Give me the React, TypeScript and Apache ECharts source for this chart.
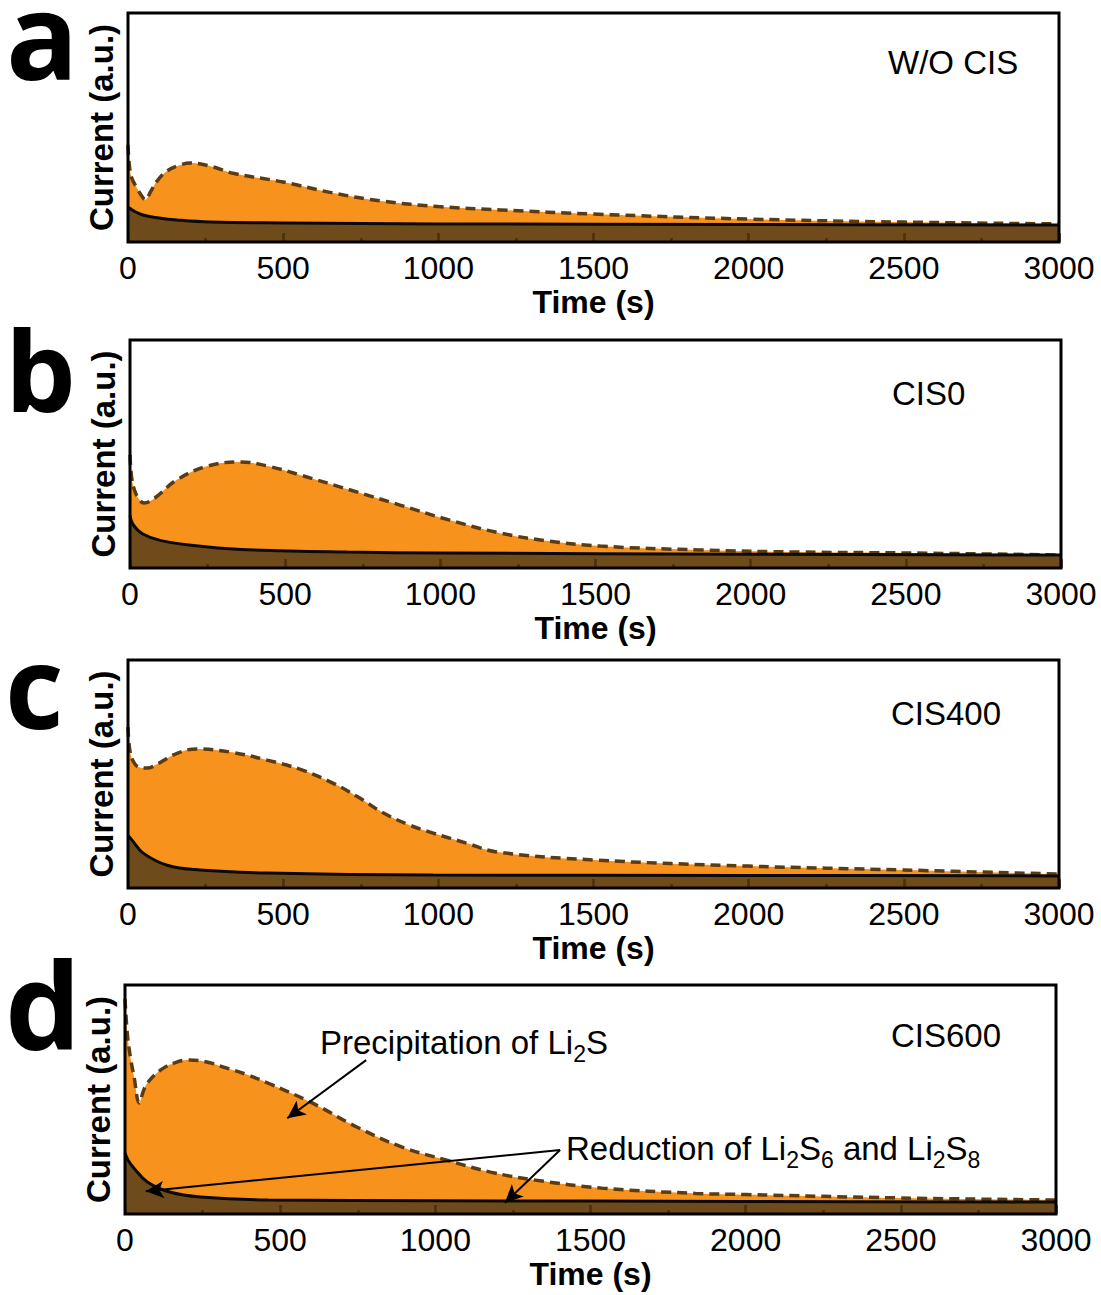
import React, { useEffect, useRef } from "react";
import * as echarts from "echarts";

// ---- data (time in s, current in a.u. normalised to the panel height) ----
const timeTickLabels = [0, 500, 1000, 1500, 2000, 2500, 3000];
const panelNames = ["W/O CIS", "CIS0", "CIS400", "CIS600"];
const panelLetters = ["a", "b", "c", "d"];

const totalA = [[0,0.424],[4,0.34],[12,0.28],[29,0.235],[45,0.2],[55,0.185],[75,0.225],[93,0.265],[126,0.31],[168,0.336],[200,0.345],[274,0.328],[339,0.30],[500,0.262],[661,0.214],[822,0.178],[1000,0.155],[1200,0.14],[1500,0.122],[2000,0.10],[2500,0.087],[3000,0.079]];
const bgA = [[0,0.15],[5,0.148],[13,0.14],[48,0.118],[100,0.105],[158,0.096],[264,0.087],[500,0.083],[1000,0.079],[2000,0.076],[3000,0.074]];

const totalB = [[0,0.496],[5,0.40],[15,0.34],[30,0.3],[45,0.285],[80,0.307],[150,0.386],[250,0.447],[355,0.465],[450,0.445],[548,0.408],[710,0.342],[870,0.276],[1030,0.21],[1190,0.154],[1350,0.118],[1515,0.096],[1837,0.079],[2160,0.07],[2500,0.066],[3000,0.057]];
const bgB = [[0,0.23],[10,0.19],[40,0.15],[100,0.12],[250,0.092],[400,0.079],[700,0.07],[1000,0.066],[2000,0.06],[3000,0.057]];

const totalC = [[0,0.706],[5,0.614],[15,0.56],[35,0.53],[61,0.526],[100,0.548],[160,0.592],[222,0.61],[330,0.596],[448,0.561],[560,0.518],[660,0.46],[740,0.40],[822,0.33],[900,0.28],[983,0.241],[1090,0.197],[1189,0.158],[1500,0.123],[2000,0.096],[2500,0.079],[3000,0.061]];
const bgC = [[0,0.23],[13,0.21],[48,0.154],[126,0.10],[232,0.079],[448,0.066],[983,0.057],[2000,0.055],[3000,0.053]];

const totalD = [[0,0.94],[8,0.78],[18,0.68],[29,0.6],[46,0.485],[60,0.54],[72,0.572],[115,0.629],[160,0.66],[201,0.672],[260,0.665],[316,0.642],[390,0.61],[460,0.572],[603,0.485],[747,0.38],[891,0.293],[1034,0.236],[1178,0.183],[1322,0.148],[1537,0.113],[1839,0.09],[2000,0.085],[2500,0.07],[3000,0.061]];
const bgD = [[0,0.266],[10,0.235],[29,0.2],[72,0.14],[144,0.096],[244,0.074],[460,0.061],[1000,0.058],[2000,0.055],[3000,0.052]];

const totals = [totalA, totalB, totalC, totalD];
const backgrounds = [bgA, bgB, bgC, bgD];

// annotation arrows in panel d (data coordinates: [time, current])
const arrowLines = [
  [[777, 0.672], [523, 0.418]],
  [[1402, 0.2795], [67, 0.099]],
  [[1402, 0.2795], [1224, 0.049]],
];

// ---- layout / styles ----
const grids = [
  { left: 128, top: 13, width: 931, height: 229 },
  { left: 130, top: 340, width: 931, height: 228 },
  { left: 128, top: 660, width: 931, height: 228 },
  { left: 125, top: 985, width: 931, height: 229 },
];
const FONT = "Liberation Sans, Arial, sans-serif";
const ORANGE = "#f7931c";
const BROWN = "#6f4a1b";
const DASH = "#5a3b12";
const TICK = "#4a300e";

const letterStyle = [
  { x: 6, y: 33, size: 120 },
  { x: 5, y: 368, size: 112 },
  { x: 5, y: 684, size: 114 },
  { x: 5, y: 1003, size: 120 },
];
const nameStyle = [
  { x: 888, y: 62 },
  { x: 892, y: 393 },
  { x: 891, y: 713 },
  { x: 891, y: 1035 },
];

export default function App() {
  const ref = useRef<HTMLDivElement>(null);
  useEffect(() => {
    if (!ref.current) return;
    const chart = echarts.init(ref.current, undefined, { renderer: "svg" });

    const xAxis = grids.map((_, i) => ({
      type: "value",
      gridIndex: i,
      min: timeTickLabels[0],
      max: timeTickLabels[timeTickLabels.length - 1],
      interval: 500,
      z: 10,
      axisLine: { show: false },
      splitLine: { show: false },
      axisTick: { show: true, inside: true, length: 9, lineStyle: { color: TICK, width: 2.5 } },
      minorTick: { show: true, splitNumber: 2, length: 4, lineStyle: { color: TICK, width: 2.5 } },
      axisLabel: {
        fontSize: 32,
        fontFamily: FONT,
        color: "#000",
        margin: 10,
        formatter: (v: number) => String(v),
      },
      name: "Time (s)",
      nameLocation: "middle",
      nameGap: 44,
      nameTextStyle: { fontSize: 32, fontWeight: "bold", fontFamily: FONT, color: "#000" },
    }));

    const yAxis = grids.map((_, i) => ({
      type: "value",
      gridIndex: i,
      min: 0,
      max: 1,
      axisLine: { show: false },
      axisTick: { show: false },
      axisLabel: { show: false },
      splitLine: { show: false },
      name: "Current (a.u.)",
      nameLocation: "middle",
      nameGap: 10,
      nameTextStyle: { fontSize: 33, fontWeight: "bold", fontFamily: FONT, color: "#000" },
    }));

    const series: any[] = [];
    grids.forEach((_, i) => {
      series.push({
        type: "line",
        xAxisIndex: i,
        yAxisIndex: i,
        data: totals[i],
        smooth: 0.4,
        showSymbol: false,
        symbol: "none",
        silent: true,
        z: 2,
        lineStyle: { color: DASH, width: 3.5, type: [10, 6] },
        areaStyle: { color: ORANGE, opacity: 1 },
      });
      series.push({
        type: "line",
        xAxisIndex: i,
        yAxisIndex: i,
        data: backgrounds[i],
        smooth: 0.4,
        showSymbol: false,
        symbol: "none",
        silent: true,
        z: 3,
        lineStyle: { color: "#0a0a0a", width: 3 },
        areaStyle: { color: BROWN, opacity: 1 },
      });
    });
    series.push({
      type: "line",
      xAxisIndex: 3,
      yAxisIndex: 3,
      data: [],
      z: 12,
      silent: true,
      markLine: {
        silent: true,
        symbol: ["none", "arrow"],
        symbolSize: [13, 18],
        label: { show: false },
        lineStyle: { color: "#000", width: 2, type: "solid" },
        data: arrowLines.map(([a, b]) => [{ coord: a }, { coord: b }]),
      },
    });

    const graphics: any[] = [];
    panelLetters.forEach((l, i) => {
      graphics.push({
        type: "text",
        x: letterStyle[i].x,
        y: letterStyle[i].y,
        z: 100,
        style: {
          text: l,
          fontSize: letterStyle[i].size,
          fontWeight: "bold",
          fontFamily: "Open Sans, sans-serif",
          fill: "#000",
          align: "left",
          verticalAlign: "middle",
        },
      });
    });
    panelNames.forEach((n, i) => {
      graphics.push({
        type: "text",
        x: nameStyle[i].x,
        y: nameStyle[i].y,
        z: 100,
        style: { text: n, fontSize: 33, fontFamily: FONT, fill: "#000", align: "left", verticalAlign: "middle" },
      });
    });
    const rich = {
      n: { fontSize: 33, fontFamily: FONT, color: "#000", lineHeight: 47, verticalAlign: "middle" },
      s: { fontSize: 23, fontFamily: FONT, color: "#000", lineHeight: 23, verticalAlign: "bottom" },
    };
    graphics.push({
      type: "text",
      x: 320,
      y: 1042,
      z: 100,
      style: {
        text: "{n|Precipitation of Li}{s|2}{n|S}",
        rich,
        align: "left",
        verticalAlign: "middle",
      },
    });
    graphics.push({
      type: "text",
      x: 566,
      y: 1148,
      z: 100,
      style: {
        text: "{n|Reduction of Li}{s|2}{n|S}{s|6}{n| and Li}{s|2}{n|S}{s|8}",
        rich,
        align: "left",
        verticalAlign: "middle",
      },
    });

    chart.setOption({
      animation: false,
      backgroundColor: "#fff",
      grid: grids.map((g) => ({
        ...g,
        show: true,
        z: 20,
        backgroundColor: "transparent",
        borderColor: "#000",
        borderWidth: 3,
        containLabel: false,
      })),
      xAxis,
      yAxis,
      series,
      graphic: { elements: graphics },
    });
    return () => chart.dispose();
  }, []);
  return (
    <div
      ref={ref}
      style={{ position: "absolute", left: 0, top: 0, width: 1101, height: 1295 }}
    />
  );
}
